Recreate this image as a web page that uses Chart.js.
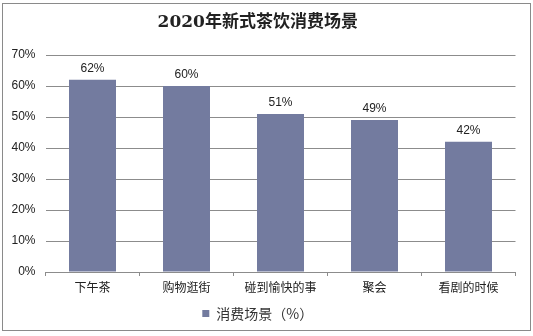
<!DOCTYPE html>
<html>
<head>
<meta charset="utf-8">
<script src="https://cdn.jsdelivr.net/npm/chart.js@4"></script>
<style>
  html, body { margin: 0; padding: 0; background: #fff; }
  #wrap { position: relative; width: 533px; height: 336px; }
</style>
</head>
<body>
<div id="wrap"><canvas id="chart" width="533" height="336"></canvas></div>
<script>
// data
const categories = ['下午茶', '购物逛街', '碰到愉快的事', '聚会', '看剧的时候'];
const shares = [62, 60, 51, 49, 42];
const seriesName = '消费场景（%）';
const titleText = '2020年新式茶饮消费场景';

const barColor = '#737b9f';
const lineColor = '#8c8c8c';

// outer frame around the whole chart
const frame = {
  id: 'frame',
  beforeDraw(chart) {
    const { ctx } = chart;
    ctx.save();
    ctx.fillStyle = '#fff';
    ctx.fillRect(0, 0, chart.width, chart.height);
    ctx.strokeStyle = '#8a8a8a';
    ctx.lineWidth = 1;
    ctx.strokeRect(2.5, 3.5, 528, 327);
    ctx.restore();
  }
};

// value labels above the bars
const valueLabels = {
  id: 'valueLabels',
  afterDatasetsDraw(chart) {
    const { ctx } = chart;
    const meta = chart.getDatasetMeta(0);
    ctx.save();
    ctx.font = '12px "Liberation Sans", Arial, sans-serif';
    ctx.fillStyle = '#222';
    ctx.textAlign = 'center';
    ctx.textBaseline = 'bottom';
    meta.data.forEach((bar, i) => {
      ctx.fillText(shares[i] + '%', bar.x, bar.y - 5);
    });
    ctx.restore();
  }
};

new Chart(document.getElementById('chart'), {
  type: 'bar',
  data: {
    labels: categories,
    datasets: [{
      label: seriesName,
      data: shares,
      backgroundColor: barColor,
      borderWidth: 0,
      categoryPercentage: 1,
      barPercentage: 0.5,
    }],
  },
  options: {
    responsive: false,
    animation: false,
    devicePixelRatio: 1,
    layout: { padding: { left: 0, right: 17.5, top: 0, bottom: 5.5 } },
    plugins: {
      title: {
        display: true,
        text: titleText,
        color: '#222',
        font: { family: '"DejaVu Serif", "Noto Sans CJK SC", serif', size: 17, weight: 'bold' },
        padding: { top: 12, bottom: 22.6 },
      },
      legend: {
        display: true,
        position: 'bottom',
        labels: {
          color: '#333',
          boxWidth: 7,
          boxHeight: 7,
          padding: 5,
          font: { family: '"Noto Sans CJK SC", sans-serif', size: 14 },
        },
      },
      tooltip: { enabled: false },
    },
    scales: {
      x: {
        grid: { offset: true, drawOnChartArea: false, drawTicks: true, tickLength: 4, color: lineColor },
        border: { display: true, color: lineColor },
        ticks: { color: '#222', padding: 4, font: { family: '"Noto Sans CJK SC", sans-serif', size: 12 } },
        afterFit(scale) { scale.height = 29.5; },
      },
      y: {
        min: 0,
        max: 70,
        grid: { color: lineColor, drawTicks: false },
        border: { display: false },
        ticks: {
          stepSize: 10,
          color: '#222',
          padding: 10,
          font: { family: '"Liberation Sans", Arial, sans-serif', size: 12 },
          callback: v => v + '%',
        },
        afterFit(scale) { scale.width = 45.5; },
      },
    },
  },
  plugins: [frame, valueLabels],
});
</script>
</body>
</html>
